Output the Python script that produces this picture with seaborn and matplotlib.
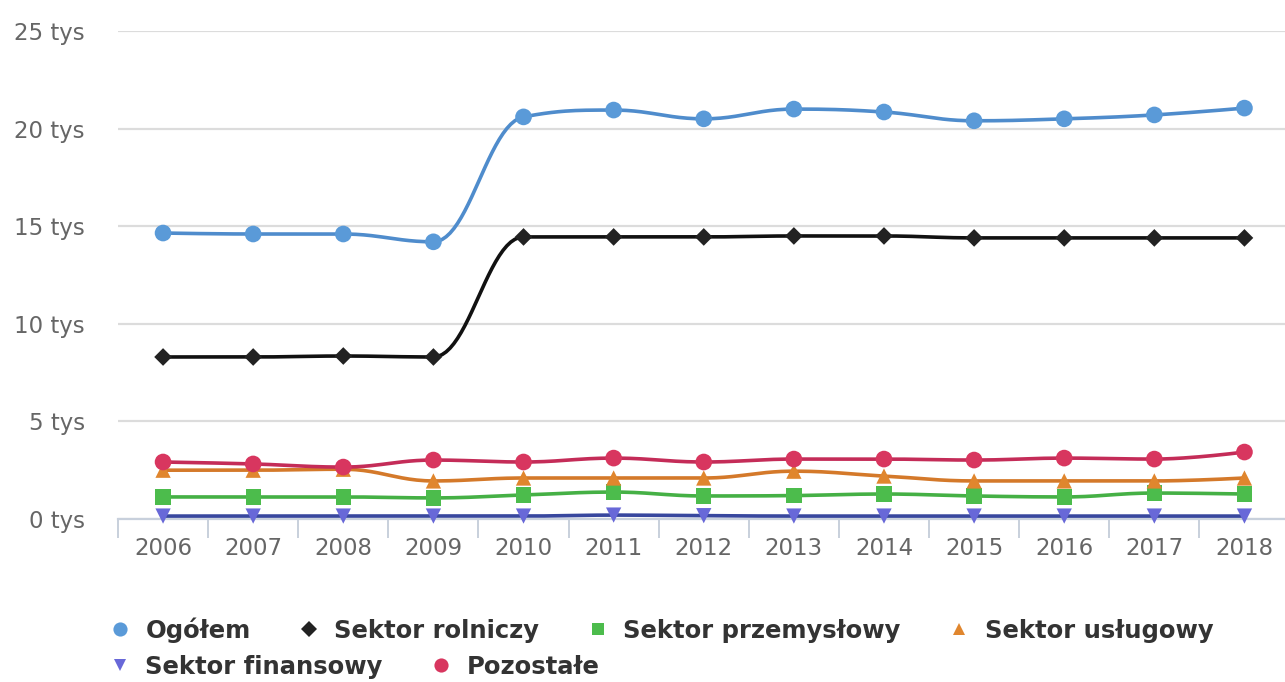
import numpy as np
import pandas as pd
import matplotlib
matplotlib.use('Agg')
import matplotlib.pyplot as plt
import seaborn as sns
from matplotlib.lines import Line2D

# values in thousands ("tys")
years = ['2006', '2007', '2008', '2009', '2010', '2011', '2012',
         '2013', '2014', '2015', '2016', '2017', '2018']
ogolem = [14.65, 14.6, 14.6, 14.2, 20.6, 20.95, 20.5, 21.0, 20.85, 20.4, 20.5, 20.7, 21.05]
rolniczy = [8.3, 8.3, 8.35, 8.3, 14.45, 14.45, 14.45, 14.5, 14.5, 14.4, 14.4, 14.4, 14.4]
przemyslowy = [1.13, 1.13, 1.13, 1.08, 1.23, 1.38, 1.18, 1.2, 1.28, 1.18, 1.13, 1.33, 1.28]
uslugowy = [2.5, 2.5, 2.55, 1.95, 2.1, 2.1, 2.1, 2.45, 2.2, 1.95, 1.95, 1.95, 2.1]
finansowy = [0.15, 0.15, 0.15, 0.15, 0.15, 0.2, 0.17, 0.15, 0.15, 0.15, 0.15, 0.15, 0.15]
pozostale = [2.92, 2.82, 2.66, 3.02, 2.92, 3.12, 2.92, 3.07, 3.07, 3.02, 3.12, 3.07, 3.43]

series = [
    ('Ogółem', ogolem, 'o', '#4f8ccc', '#5a9ad8', 12),
    ('Sektor rolniczy', rolniczy, 'D', '#111111', '#222222', 9),
    ('Sektor przemysłowy', przemyslowy, 's', '#45b045', '#4cbc4c', 11),
    ('Sektor usługowy', uslugowy, '^', '#d4792a', '#e0862e', 11),
    ('Sektor finansowy', finansowy, 'v', '#38479e', '#6868d8', 11),
    ('Pozostałe', pozostale, 'o', '#c42c58', '#d8365f', 12),
]


def spline(xs, ys, smoothing=1.5, n=25):
    # smooth curve through the points (bezier control points like a spline chart)
    xs = list(map(float, xs))
    ys = list(map(float, ys))
    m = len(xs)
    left = [(xs[i], ys[i]) for i in range(m)]
    right = [(xs[i], ys[i]) for i in range(m)]
    d = smoothing + 1
    for i in range(1, m - 1):
        px, py = xs[i], ys[i]
        lx, ly = xs[i - 1], ys[i - 1]
        nx, ny = xs[i + 1], ys[i + 1]
        lcx = (smoothing * px + lx) / d
        lcy = (smoothing * py + ly) / d
        rcx = (smoothing * px + nx) / d
        rcy = (smoothing * py + ny) / d
        corr = (rcy - lcy) * (rcx - px) / (rcx - lcx) + py - rcy
        lcy += corr
        rcy += corr
        if lcy > ly and lcy > py:
            lcy = max(ly, py); rcy = 2 * py - lcy
        elif lcy < ly and lcy < py:
            lcy = min(ly, py); rcy = 2 * py - lcy
        if rcy > ny and rcy > py:
            rcy = max(ny, py); lcy = 2 * py - rcy
        elif rcy < ny and rcy < py:
            rcy = min(ny, py); lcy = 2 * py - rcy
        left[i] = (lcx, lcy)
        right[i] = (rcx, rcy)
    t = np.linspace(0, 1, n)
    cx, cy = [xs[0]], [ys[0]]
    for i in range(1, m):
        p0 = np.array([xs[i - 1], ys[i - 1]])
        p1 = np.array(right[i - 1])
        p2 = np.array(left[i])
        p3 = np.array([xs[i], ys[i]])
        pts = ((1 - t) ** 3)[:, None] * p0 + (3 * (1 - t) ** 2 * t)[:, None] * p1 \
            + (3 * (1 - t) * t ** 2)[:, None] * p2 + (t ** 3)[:, None] * p3
        cx.extend(pts[1:, 0])
        cy.extend(pts[1:, 1])
    return cx, cy


sns.set_style('white')
plt.rcParams['font.family'] = ['DejaVu Sans']

fig = plt.figure(figsize=(12.85, 6.82), dpi=100)
ax = fig.add_axes([118 / 1285, 1 - 519 / 682, 1 - 118 / 1285, (519 - 31) / 682])

x = np.arange(len(years))
for i, (name, vals, mk, lc, mc, ms) in enumerate(series):
    cx, cy = spline(x, vals)
    ax.plot(cx, cy, color=lc, lw=2.6, zorder=3 + i, solid_capstyle='round')
    df = pd.DataFrame({'x': x, 'y': vals})
    sns.scatterplot(data=df, x='x', y='y', marker=mk, color=mc, s=ms ** 2,
                    edgecolor='none', ax=ax, zorder=3.5 + i, clip_on=False)

ax.set_xlim(-0.5, 12.45)
ax.set_ylim(0, 25)
ax.set_yticks([0, 5, 10, 15, 20, 25])
ax.set_yticklabels([f'{v} tys' for v in [0, 5, 10, 15, 20, 25]])
ax.set_xticks(x)
ax.set_xticklabels(years)
ax.set_xticks(np.arange(-0.5, 12.5, 1), minor=True)
ax.set_xlabel('')
ax.set_ylabel('')

ax.grid(axis='y', color='#dcdcdc', lw=1.6)
ax.grid(axis='x', visible=False)
ax.set_axisbelow(True)
for s in ['top', 'right', 'left']:
    ax.spines[s].set_visible(False)
ax.spines['bottom'].set_color('#c8d0dc')
ax.spines['bottom'].set_linewidth(1.6)

ax.tick_params(axis='y', length=0, pad=24, labelsize=16.5, labelcolor='#666666')
ax.tick_params(axis='x', which='major', bottom=True, length=0, pad=13,
               labelsize=16.5, labelcolor='#666666')
ax.tick_params(axis='x', which='minor', bottom=True, length=14, width=1.4,
               color='#c8d0dc', direction='out')

# legend as in the original, flowing in two rows
handles = []
for name, vals, mk, lc, mc, ms in series:
    handles.append(Line2D([], [], ls='none', marker=mk, color=mc, markersize=ms * 0.85,
                          markeredgewidth=0, label=name))

common = dict(frameon=False, handletextpad=0.55, columnspacing=1.9, borderaxespad=0,
              prop={'weight': 'bold', 'size': 17.5}, labelcolor='#333333', handlelength=1.0)
fig.legend(handles=handles[:4], ncol=4, loc='center left',
           bbox_to_anchor=(98 / 1285, 1 - 630 / 682), **common)
fig.legend(handles=handles[4:], ncol=2, loc='center left',
           bbox_to_anchor=(98 / 1285, 1 - 667 / 682), **common)

fig.savefig('out.png', dpi=100)
